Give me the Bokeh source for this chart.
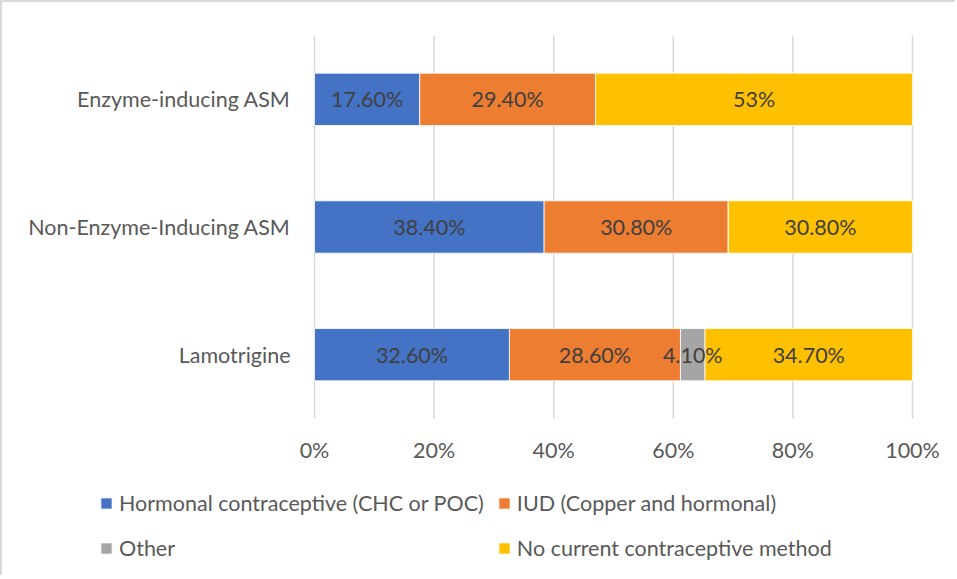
import numpy as np
from bokeh.plotting import figure
from bokeh.models import ColumnDataSource, Range1d, Legend, LegendItem, InlineStyleSheet
from bokeh.core.properties import value
from bokeh.embed import file_html
from bokeh.resources import INLINE

categories = ["Lamotrigine", "Non-Enzyme-Inducing ASM", "Enzyme-inducing ASM"]
series_names = ["Hormonal contraceptive (CHC or POC)", "IUD (Copper and hormonal)", "Other", "No current contraceptive method"]
hormonal = [32.6, 38.4, 17.6]
iud = [28.6, 30.8, 29.4]
other = [4.1, 0.0, 0.0]
none_method = [34.7, 30.8, 53.0]
hormonal_labels = ["32.60%", "38.40%", "17.60%"]
iud_labels = ["28.60%", "30.80%", "29.40%"]
other_labels = ["4.10%", "", ""]
none_labels = ["34.70%", "30.80%", "53%"]
x_ticks = [0, 0.2, 0.4, 0.6, 0.8, 1.0]
x_tick_labels = ["0%", "20%", "40%", "60%", "80%", "100%"]

colors = ["#4472C4", "#ED7D31", "#A5A5A5", "#FFC000"]
FONT = "Lato"
FS = "21.5px"
AXIS_COLOR = "#595959"

keys = ["hormonal", "iud", "other", "none"]
vals = [hormonal, iud, other, none_method]
labs = [hormonal_labels, iud_labels, other_labels, none_labels]
ncat = len(categories)
ypos = list(np.arange(ncat) + 0.5)
data = {"y": ypos, "cat": categories}
for k, v in zip(keys, vals):
    data[k] = [x / 100 for x in v]
source = ColumnDataSource(data)

# canvas geometry (pixels): plot area 312..910 horizontally, 33..416 vertically
W, H = 955, 575
L, R, T, B = 312, 910, 33, 416
xs = (R - L)            # px per unit of x
ys = (B - T) / ncat     # px per category
x_range = Range1d(-L / xs, 1 + (W - R) / xs)
y_range = Range1d(-(H - B) / ys, ncat + T / ys)

p = figure(width=W, height=H, x_range=x_range, y_range=y_range,
           x_axis_type=None, y_axis_type=None,
           output_backend="svg", toolbar_location=None, min_border=0)
p.outline_line_color = None
p.xgrid.visible = False
p.ygrid.visible = False
p.stylesheets = [InlineStyleSheet(css=":host { border-top: 2px solid #d9d9d9; border-left: 2px solid #d9d9d9; }")]

# vertical gridlines at the value ticks
p.segment(x0=x_ticks, x1=x_ticks, y0=0, y1=ncat, line_color="#d9d9d9", line_width=1.5)

renderers = p.hbar_stack(keys, y="y", height=0.41, color=colors, source=source,
                         line_color="white", line_width=0.8)

# data labels
arr = np.array(vals, dtype=float) / 100
cum = np.cumsum(arr, axis=0)
starts = cum - arr
tx, ty, tt = [], [], []
for i in range(len(keys)):
    for j in range(ncat):
        if labs[i][j]:
            tx.append((starts[i][j] + cum[i][j]) / 2)
            ty.append(ypos[j])
            tt.append(labs[i][j])
p.text(x=tx, y=ty, text=tt, text_align="center", text_baseline="middle",
       text_font=value(FONT), text_font_size=FS, text_color="#404040")

# value axis labels
p.text(x=x_ticks, y=[0] * len(x_ticks), text=x_tick_labels, y_offset=31,
       text_align="center", text_baseline="middle",
       text_font=value(FONT), text_font_size=FS, text_color=AXIS_COLOR)

# category axis labels
p.text(x=[0] * ncat, y=ypos, text=categories, x_offset=-24,
       text_align="right", text_baseline="middle",
       text_font=value(FONT), text_font_size=FS, text_color=AXIS_COLOR)

items = [LegendItem(label=n, renderers=[r]) for n, r in zip(series_names, renderers)]
legend = Legend(items=items, location=(97, 13), ncols=2, orientation="horizontal",
                glyph_width=14, glyph_height=14, label_standoff=6, spacing=13,
                label_height=32, padding=0, margin=0, border_line_color=None,
                background_fill_alpha=0, label_text_font=FONT,
                label_text_font_size=FS, label_text_color=AXIS_COLOR)
p.add_layout(legend, "center")

open("out.html", "w").write(file_html(p, INLINE))
